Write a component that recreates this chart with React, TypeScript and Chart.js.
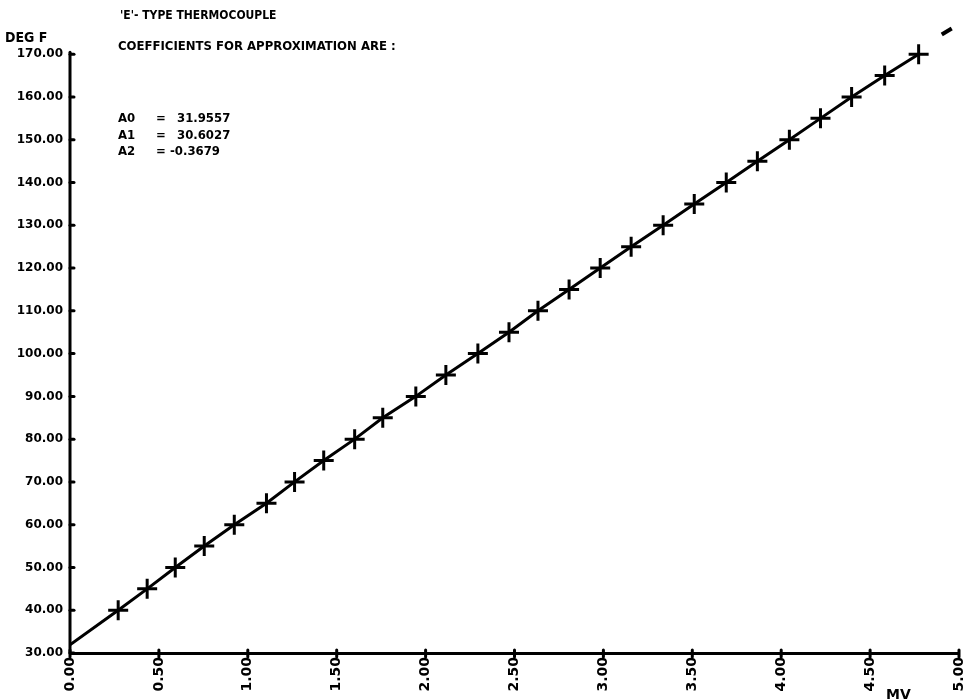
import React, { useEffect, useRef } from "react";
import { Chart, registerables } from "chart.js";

Chart.register(...registerables);

// Temperatures (deg F) at each plotted cross
const degF = [40, 45, 50, 55, 60, 65, 70, 75, 80, 85, 90, 95, 100, 105, 110, 115, 120, 125, 130, 135, 140, 145, 150, 155, 160, 165, 170];
// Thermocouple output (mV) read for each cross
const milliVolts = [0.271, 0.434, 0.592, 0.755, 0.924, 1.105, 1.263, 1.427, 1.601, 1.759, 1.945, 2.114, 2.294, 2.469, 2.632, 2.807, 2.982, 3.156, 3.336, 3.511, 3.691, 3.866, 4.046, 4.221, 4.396, 4.582, 4.773];
// Start of the drawn curve at the origin of the axes
const curveStartMv = [0];
const curveStartDegF = [31.9];
// Short stray dash of the curve beyond the last cross
const dashMv = [4.903, 4.959];
const dashDegF = [174.6, 176.0];

const yTickValues = [30, 40, 50, 60, 70, 80, 90, 100, 110, 120, 130, 140, 150, 160, 170];
const xTickValues = [0, 0.5, 1, 1.5, 2, 2.5, 3, 3.5, 4, 4.5, 5];

const titleLine = "'E'- TYPE THERMOCOUPLE";
const subtitleLine = "COEFFICIENTS FOR APPROXIMATION ARE :";
const coefNames = ["A0", "A1", "A2"];
const coefValues = ["31.9557", "30.6027", "-0.3679"];
const yAxisTitle = "DEG F";
const xAxisTitle = "MV";

const FONT = "'DejaVu Sans', sans-serif";
const CFONT = "'DejaVu Sans Condensed', 'DejaVu Sans', sans-serif";

export default function App() {
  const ref = useRef<HTMLCanvasElement | null>(null);

  useEffect(() => {
    if (!ref.current) return;

    const curve = curveStartMv
      .map((x, i) => ({ x, y: curveStartDegF[i] }))
      .concat(milliVolts.map((x, i) => ({ x, y: degF[i] })));
    const crosses = milliVolts.map((x, i) => ({ x, y: degF[i] }));
    const dash = dashMv.map((x, i) => ({ x, y: dashDegF[i] }));

    const decor = {
      id: "decor",
      afterDraw(chart: any) {
        const ctx = chart.ctx;
        const xs = chart.scales.x;
        const ys = chart.scales.y;
        const left = chart.chartArea.left;
        const bottom = chart.chartArea.bottom;
        ctx.save();
        ctx.strokeStyle = "#000";
        ctx.fillStyle = "#000";
        ctx.lineCap = "round";
        ctx.lineWidth = 3;
        ctx.beginPath();
        ctx.moveTo(left, ys.getPixelForValue(yTickValues[0]));
        ctx.lineTo(left, ys.getPixelForValue(yTickValues[yTickValues.length - 1]) - 2);
        ctx.stroke();
        yTickValues.forEach((v) => {
          const py = ys.getPixelForValue(v);
          ctx.beginPath();
          ctx.moveTo(left, py);
          ctx.lineTo(left + 4, py);
          ctx.stroke();
        });
        xTickValues.forEach((v) => {
          const px = xs.getPixelForValue(v);
          ctx.beginPath();
          ctx.moveTo(px, bottom - 3);
          ctx.lineTo(px, bottom + 4);
          ctx.stroke();
        });
        ctx.textBaseline = "alphabetic";
        ctx.textAlign = "left";
        ctx.font = `bold 12px ${CFONT}`;
        ctx.fillText(titleLine, 120, 19);
        ctx.font = `bold 13px ${CFONT}`;
        ctx.fillText(subtitleLine, 118, 50);
        coefNames.forEach((n, i) => {
          const by = 122 + i * 16.5;
          ctx.fillText(n, 118, by);
          ctx.fillText("=", 156, by);
          ctx.fillText(coefValues[i], coefValues[i].startsWith("-") ? 170 : 177, by);
        });
        ctx.font = `bold 14px ${CFONT}`;
        ctx.fillText(yAxisTitle, 5, 42);
        ctx.font = `bold 14px ${FONT}`;
        ctx.fillText(xAxisTitle, 886, 699);
        ctx.restore();
      },
    };

    const chart = new Chart(ref.current, {
      type: "scatter",
      data: {
        datasets: [
          {
            type: "line",
            data: curve,
            borderColor: "#000",
            borderWidth: 3,
            pointRadius: 0,
            tension: 0,
            fill: false,
          },
          {
            type: "scatter",
            data: crosses,
            pointStyle: "cross",
            pointRadius: 10,
            borderColor: "#000",
            borderWidth: 3,
            showLine: false,
          },
          {
            type: "line",
            data: dash,
            borderColor: "#000",
            borderWidth: 4,
            pointRadius: 0,
            fill: false,
          },
        ] as any,
      },
      options: {
        animation: false,
        responsive: false,
        maintainAspectRatio: false,
        layout: { autoPadding: false, padding: { top: 20, right: 4, left: 0, bottom: 0 } },
        plugins: { legend: { display: false }, tooltip: { enabled: false }, title: { display: false } },
        scales: {
          x: {
            type: "linear",
            min: 0,
            max: 5,
            grid: { display: false, drawTicks: false },
            border: { display: true, color: "#000", width: 3 },
            afterBuildTicks: (s: any) => {
              s.ticks = xTickValues.map((v) => ({ value: v }));
            },
            afterFit: (s: any) => {
              s.height = 47;
              s.paddingLeft = 0;
              s.paddingRight = 0;
            },
            ticks: {
              minRotation: 90,
              maxRotation: 90,
              padding: 4,
              color: "#000",
              font: { family: FONT, weight: "bold", size: 14 },
              callback: (v: any) => Number(v).toFixed(2),
            },
          },
          y: {
            type: "linear",
            min: 30,
            max: 178,
            grid: { display: false, drawTicks: false },
            border: { display: false },
            afterBuildTicks: (s: any) => {
              s.ticks = yTickValues.map((v) => ({ value: v }));
            },
            afterFit: (s: any) => {
              s.width = 70;
              s.paddingTop = 0;
              s.paddingBottom = 0;
            },
            ticks: {
              padding: 7,
              color: "#000",
              font: { family: FONT, weight: "bold", size: 12 },
              callback: (v: any) => Number(v).toFixed(2),
            },
          },
        },
      },
      plugins: [decor],
    });

    return () => chart.destroy();
  }, []);

  return (
    <div style={{ position: "absolute", left: 0, top: 0, width: 963, height: 700, background: "#fff" }}>
      <canvas ref={ref} width={963} height={700} style={{ width: 963, height: 700, display: "block" }} />
    </div>
  );
}
